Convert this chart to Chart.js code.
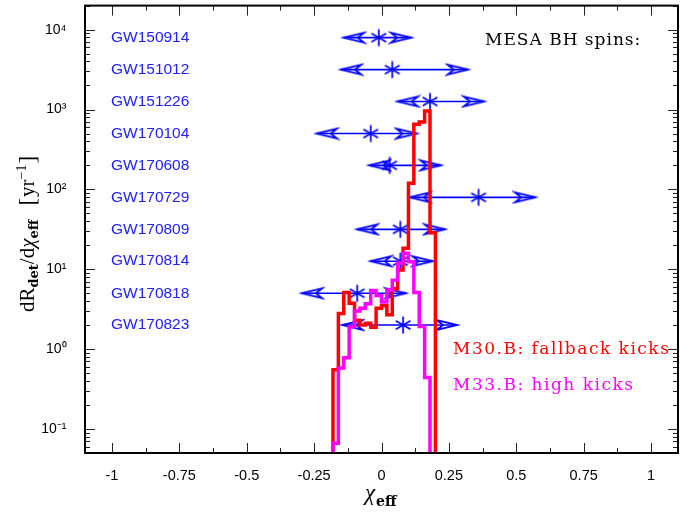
<!DOCTYPE html>
<html>
<head>
<meta charset="utf-8">
<script src="https://cdn.jsdelivr.net/npm/chart.js@4/dist/chart.umd.min.js"></script>
<style>
  html, body { margin: 0; padding: 0; background: #fff; }
</style>
</head>
<body>
<canvas id="chart" width="687" height="512"></canvas>
<script>
// histogram bins (chi_eff), shared by both models
const binEdges = [-0.18, -0.16, -0.14, -0.12, -0.10, -0.08, -0.06, -0.04, -0.02, 0.00,
                  0.02, 0.04, 0.06, 0.08, 0.10, 0.12, 0.14, 0.16, 0.18, 0.20];
// dR_det/dchi_eff [1/yr] per bin
const fallbackKicks = [0.55, 2.8, 5.1, 3.76, 2.3, 2.0, 2.1, 1.88, 3.25, 3.5,
                       2.7, 5.7, 9.8, 18.3, 119, 655, 700, 960, 28.7];
const highKicks = [0.066, 0.58, 0.78, 1.9, 3.0, 3.25, 3.7, 5.4, 4.7, 3.9,
                   5.5, 7.3, 12, 15.8, 12.4, 5.1, 1.92, 0.44, 0];

// LIGO/Virgo events: median and 90% interval of chi_eff
const events = ['GW150914', 'GW151012', 'GW151226', 'GW170104', 'GW170608',
                'GW170729', 'GW170809', 'GW170814', 'GW170818', 'GW170823'];
const eventMedian = [-0.01, 0.04, 0.18, -0.04, 0.03, 0.36, 0.07, 0.07, -0.09, 0.08];
const eventLow = [-0.14, -0.15, 0.06, -0.24, -0.045, 0.105, -0.09, -0.04, -0.295, -0.145];
const eventHigh = [0.11, 0.32, 0.38, 0.13, 0.22, 0.57, 0.235, 0.19, 0.09, 0.28];
const eventRow = [7940, 3160, 1260, 500, 200, 79.4, 31.6, 12.6, 5.0, 2.0];

const xTickLabels = ['-1', '-0.75', '-0.5', '-0.25', '0', '0.25', '0.5', '0.75', '1'];
const supers = { '-': '\u207B', '0': '\u2070', '1': '\u00B9', '2': '\u00B2', '3': '\u00B3', '4': '\u2074' };

const BLUE = '#0000ff';
const floorVal = 0.01; // below the axis, gets clipped

function histPoints(values) {
    const pts = [{ x: binEdges[0], y: floorVal }];
    values.forEach((v, i) => pts.push({ x: binEdges[i], y: v > 0 ? v : floorVal }));
    pts.push({ x: binEdges[binEdges.length - 1], y: floorVal });
    return pts;
}

// arrow heads: tip sits in the middle of the canvas
function arrowHead(dir) {
    const c = document.createElement('canvas');
    c.width = 46; c.height = 14;
    const g = c.getContext('2d');
    const tx = 23, ty = 7, L = 20, h = 4.8, notch = 14;
    g.strokeStyle = BLUE;
    g.lineWidth = 1.8;
    g.lineJoin = 'miter';
    g.beginPath();
    g.moveTo(tx, ty);
    g.lineTo(tx - dir * L, ty - h);
    g.lineTo(tx - dir * notch, ty);
    g.lineTo(tx - dir * L, ty + h);
    g.closePath();
    g.stroke();
    return c;
}

function asterisk() {
    const c = document.createElement('canvas');
    c.width = 22; c.height = 22;
    const g = c.getContext('2d');
    const r = 8.5, cx = 11, cy = 11;
    g.strokeStyle = BLUE;
    g.lineWidth = 1.7;
    g.beginPath();
    [90, 30, 150].forEach(a => {
        const dx = r * Math.cos(a * Math.PI / 180), dy = r * Math.sin(a * Math.PI / 180);
        g.moveTo(cx - dx, cy - dy);
        g.lineTo(cx + dx, cy + dy);
    });
    g.stroke();
    return c;
}

const leftHead = arrowHead(-1);
const rightHead = arrowHead(1);
const star = asterisk();

const datasets = [
    {
        label: 'M33.B: high kicks',
        data: histPoints(highKicks),
        borderColor: '#ff00ff',
        borderWidth: 3.5,
        stepped: true,
        pointRadius: 0,
        fill: false,
        clip: 0
    },
    {
        label: 'M30.B: fallback kicks',
        data: histPoints(fallbackKicks),
        borderColor: '#ff0000',
        borderWidth: 3.5,
        stepped: true,
        pointRadius: 0,
        fill: false,
        clip: 0
    }
];

events.forEach((name, i) => {
    datasets.push({
        label: name,
        data: [{ x: eventLow[i], y: eventRow[i] }, { x: eventHigh[i], y: eventRow[i] }],
        borderColor: BLUE,
        borderWidth: 1.6,
        pointStyle: [leftHead, rightHead],
        pointRadius: 1,
        fill: false,
        clip: false
    });
});

datasets.push({
    label: 'median',
    data: events.map((n, i) => ({ x: eventMedian[i], y: eventRow[i] })),
    showLine: false,
    pointStyle: star,
    pointRadius: 1,
    clip: false
});

function isPow10(v) {
    const l = Math.log10(v);
    return Math.abs(l - Math.round(l)) < 1e-6;
}

const frameAndText = {
    id: 'frameAndText',
    afterDraw(chart) {
        const { ctx, chartArea: a, scales: { x, y } } = chart;
        ctx.save();

        // inward ticks on all four sides
        ctx.strokeStyle = '#222';
        ctx.lineWidth = 1;
        ctx.beginPath();
        for (let k = -8; k <= 8; k++) {
            const v = k * 0.125;
            const px = Math.round(x.getPixelForValue(v)) + 0.5;
            const len = k % 2 === 0 ? 10 : 5;
            ctx.moveTo(px, a.bottom); ctx.lineTo(px, a.bottom - len);
            ctx.moveTo(px, a.top); ctx.lineTo(px, a.top + len);
        }
        for (let e = -2; e <= 4; e++) {
            for (let m = 1; m <= 9; m++) {
                const v = m * Math.pow(10, e);
                if (v < y.min || v > y.max) continue;
                const py = Math.round(y.getPixelForValue(v)) + 0.5;
                const len = m === 1 ? 10 : 5;
                ctx.moveTo(a.left, py); ctx.lineTo(a.left + len, py);
                ctx.moveTo(a.right, py); ctx.lineTo(a.right - len, py);
            }
        }
        ctx.stroke();

        ctx.strokeStyle = '#000';
        ctx.lineWidth = 2;
        ctx.strokeRect(a.left, a.top, a.right - a.left, a.bottom - a.top);

        // event names
        ctx.fillStyle = '#2020ff';
        ctx.font = '15.5px "Liberation Sans", Arial, sans-serif';
        ctx.textAlign = 'left';
        ctx.textBaseline = 'middle';
        events.forEach((name, i) => {
            ctx.fillText(name, x.getPixelForValue(-1) - 1, y.getPixelForValue(eventRow[i]));
        });

        // annotations
        ctx.textBaseline = 'alphabetic';
        ctx.font = '17px "DejaVu Serif", serif';
        ctx.letterSpacing = '1px';
        ctx.fillStyle = '#000';
        ctx.fillText('MESA BH spins:', 485, 45);
        ctx.letterSpacing = '1.5px';
        ctx.fillStyle = '#ff0000';
        ctx.fillText('M30.B: fallback kicks', 453, 354);
        ctx.fillStyle = '#ff00ff';
        ctx.fillText('M33.B: high kicks', 453, 390);
        ctx.letterSpacing = '0px';

        // x axis title: chi_eff
        ctx.fillStyle = '#000';
        ctx.font = 'italic 23px "Liberation Serif", serif';
        ctx.fillText('\u03C7', 365, 500);
        const chiW = ctx.measureText('\u03C7').width;
        ctx.font = 'bold 14px "DejaVu Serif", serif';
        ctx.fillText('eff', 365 + chiW + 1, 506);

        // y axis title, rotated
        ctx.translate(34, 312);
        ctx.rotate(-Math.PI / 2);
        let cx = 0;
        const piece = (txt, font, dy) => {
            ctx.font = font;
            ctx.fillText(txt, cx, dy);
            cx += ctx.measureText(txt).width;
        };
        const roman = '21px "Liberation Serif", serif';
        const sub = 'bold 13px "DejaVu Serif", serif';
        piece('dR', roman, 0);
        piece('det', sub, 4);
        piece('/d', roman, 0);
        piece('\u03C7', 'italic 21px "Liberation Serif", serif', 0);
        piece('eff', sub, 4);
        cx += 14;
        piece('[', '23px "Liberation Serif", serif', 1);
        cx += 1;
        piece('yr', roman, 0);
        piece('\u22121', '14px "Liberation Serif", serif', -8);
        cx += 1;
        piece(']', '23px "Liberation Serif", serif', 1);

        ctx.restore();
    }
};

new Chart(document.getElementById('chart'), {
    type: 'line',
    data: { datasets },
    options: {
        responsive: false,
        animation: false,
        events: [],
        layout: { padding: { top: 5, right: 9, left: 0, bottom: 0 } },
        plugins: { legend: { display: false }, tooltip: { enabled: false } },
        scales: {
            x: {
                type: 'linear',
                min: -1.1,
                max: 1.1,
                grid: { display: false, drawTicks: false },
                border: { display: false },
                ticks: {
                    stepSize: 0.25,
                    includeBounds: false,
                    padding: 14,
                    color: '#000',
                    font: { family: '"Liberation Sans", Arial, sans-serif', size: 14.5 },
                    callback: v => {
                        const k = Math.round((v + 1) / 0.25);
                        return Math.abs(v - (-1 + k * 0.25)) < 1e-6 ? xTickLabels[k] : '';
                    }
                },
                afterFit: s => {
                    s.height = 59;
                    s.paddingLeft = 0;
                    s.paddingRight = 0;
                }
            },
            y: {
                type: 'logarithmic',
                min: 0.05,
                max: 20000,
                grid: { display: false, drawTicks: false },
                border: { display: false },
                ticks: {
                    autoSkip: false,
                    padding: 18.5,
                    color: '#000',
                    font: { family: '"Liberation Sans", Arial, sans-serif', size: 14 },
                    callback: v => {
                        if (!isPow10(v)) return '';
                        const e = String(Math.round(Math.log10(v)));
                        return '10' + e.split('').map(c => supers[c]).join('');
                    }
                },
                afterFit: s => {
                    s.width = 85;
                    s.paddingTop = 0;
                    s.paddingBottom = 0;
                }
            }
        }
    },
    plugins: [frameAndText]
});
</script>
</body>
</html>
